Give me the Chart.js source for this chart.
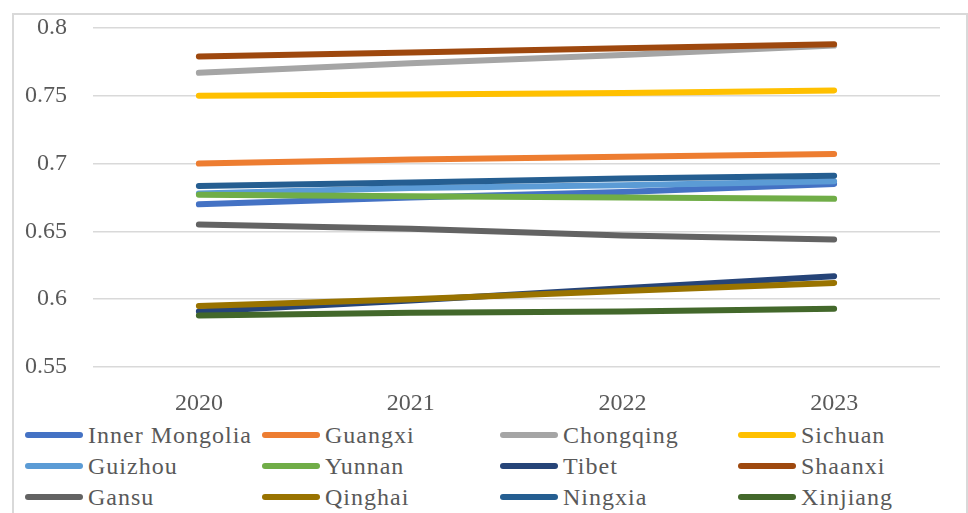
<!DOCTYPE html>
<html>
<head>
    <title>Regional index 2020-2023</title>
    <script src="https://cdn.jsdelivr.net/npm/chart.js"></script>
    <style>
        body { margin: 0; background: #fff; width: 968px; height: 513px; overflow: hidden; position: relative; }
        #frame { position: absolute; left: 12px; top: 13px; width: 952px; height: 540px; border: 2px solid #d9d9d9; }
        #wrap { position: absolute; left: 0; top: 0; width: 968px; height: 420px; }
        #legend { position: absolute; left: 0; top: 418px; width: 968px; }
        .item { position: absolute; height: 30px; display: flex; align-items: center;
                font-family: "Liberation Serif", "DejaVu Serif", serif; font-size: 24px;
                color: #595959; letter-spacing: 1px; white-space: nowrap; }
        .swatch { display: inline-block; width: 58px; height: 6px; border-radius: 3px; margin-right: 5px; }
    </style>
</head>
<body>
    <div id="frame"></div>
    <div id="wrap"><canvas id="lineChart" width="968" height="420"></canvas></div>
    <div id="legend"></div>

    <script>
        // data
        const years = ['2020', '2021', '2022', '2023'];
        const regions = ['Inner Mongolia', 'Guangxi', 'Chongqing', 'Sichuan', 'Guizhou', 'Yunnan',
                         'Tibet', 'Shaanxi', 'Gansu', 'Qinghai', 'Ningxia', 'Xinjiang'];
        const innerMongolia = [0.670, 0.675, 0.679, 0.685];
        const guangxi = [0.700, 0.703, 0.705, 0.707];
        const chongqing = [0.767, 0.774, 0.780, 0.787];
        const sichuan = [0.750, 0.751, 0.752, 0.754];
        const guizhou = [0.678, 0.682, 0.684, 0.687];
        const yunnan = [0.677, 0.676, 0.675, 0.674];
        const tibet = [0.591, 0.599, 0.608, 0.617];
        const shaanxi = [0.779, 0.782, 0.785, 0.788];
        const gansu = [0.655, 0.652, 0.647, 0.644];
        const qinghai = [0.595, 0.600, 0.606, 0.612];
        const ningxia = [0.6835, 0.686, 0.689, 0.691];
        const xinjiang = [0.588, 0.590, 0.591, 0.593];
        const yTicks = [0.55, 0.6, 0.65, 0.7, 0.75, 0.8];

        const series = [innerMongolia, guangxi, chongqing, sichuan, guizhou, yunnan,
                        tibet, shaanxi, gansu, qinghai, ningxia, xinjiang];
        const colors = ['#4472C4', '#ED7D31', '#A5A5A5', '#FFC000', '#5B9BD5', '#70AD47',
                        '#264478', '#9E480E', '#636363', '#997300', '#255E91', '#43682B'];

        const serif = 'Liberation Serif, DejaVu Serif, serif';

        const datasets = regions.map((name, i) => ({
            label: name,
            data: series[i],
            borderColor: colors[i],
            backgroundColor: colors[i],
            borderWidth: 6,
            borderCapStyle: 'round',
            borderJoinStyle: 'round',
            pointRadius: 0,
            tension: 0,
            order: regions.length - i   // later series on top, like Excel
        }));

        const ctx = document.getElementById('lineChart').getContext('2d');
        const chart = new Chart(ctx, {
            type: 'line',
            data: { labels: years, datasets: datasets },
            options: {
                responsive: false,
                animation: false,
                layout: { padding: { top: 28, right: 28, left: 0, bottom: 0 } },
                plugins: { legend: { display: false }, tooltip: { enabled: false } },
                scales: {
                    x: {
                        offset: true,
                        grid: { display: false, drawTicks: false },
                        border: { display: false },
                        ticks: { color: '#595959', font: { family: serif, size: 24 }, padding: 22 },
                        afterFit: (scale) => { scale.height = 53; }
                    },
                    y: {
                        min: 0.55,
                        max: 0.8,
                        afterBuildTicks: (scale) => { scale.ticks = yTicks.map(v => ({ value: v })); },
                        grid: { color: '#d9d9d9', lineWidth: 1.5, drawTicks: false },
                        border: { display: false },
                        ticks: {
                            color: '#595959',
                            font: { family: serif, size: 24 },
                            padding: 26,
                            callback: (v) => String(Number(v.toFixed(2)))
                        },
                        afterFit: (scale) => {
                            scale.width = 93;
                            // the label padding should not push the plot down
                            scale.paddingTop = 0;
                            scale.paddingBottom = 0;
                        }
                    }
                }
            }
        });

        // legend laid out as a 4-column grid, built from the chart's datasets
        const legend = document.getElementById('legend');
        const colX = [25, 262, 500, 738];
        const rowY = [2, 33, 64];
        chart.data.datasets.forEach((ds, i) => {
            const item = document.createElement('div');
            item.className = 'item';
            item.style.left = colX[i % 4] + 'px';
            item.style.top = rowY[Math.floor(i / 4)] + 'px';
            item.innerHTML = `<span class="swatch" style="background:${ds.borderColor}"></span>${ds.label}`;
            legend.appendChild(item);
        });
    </script>
</body>
</html>
